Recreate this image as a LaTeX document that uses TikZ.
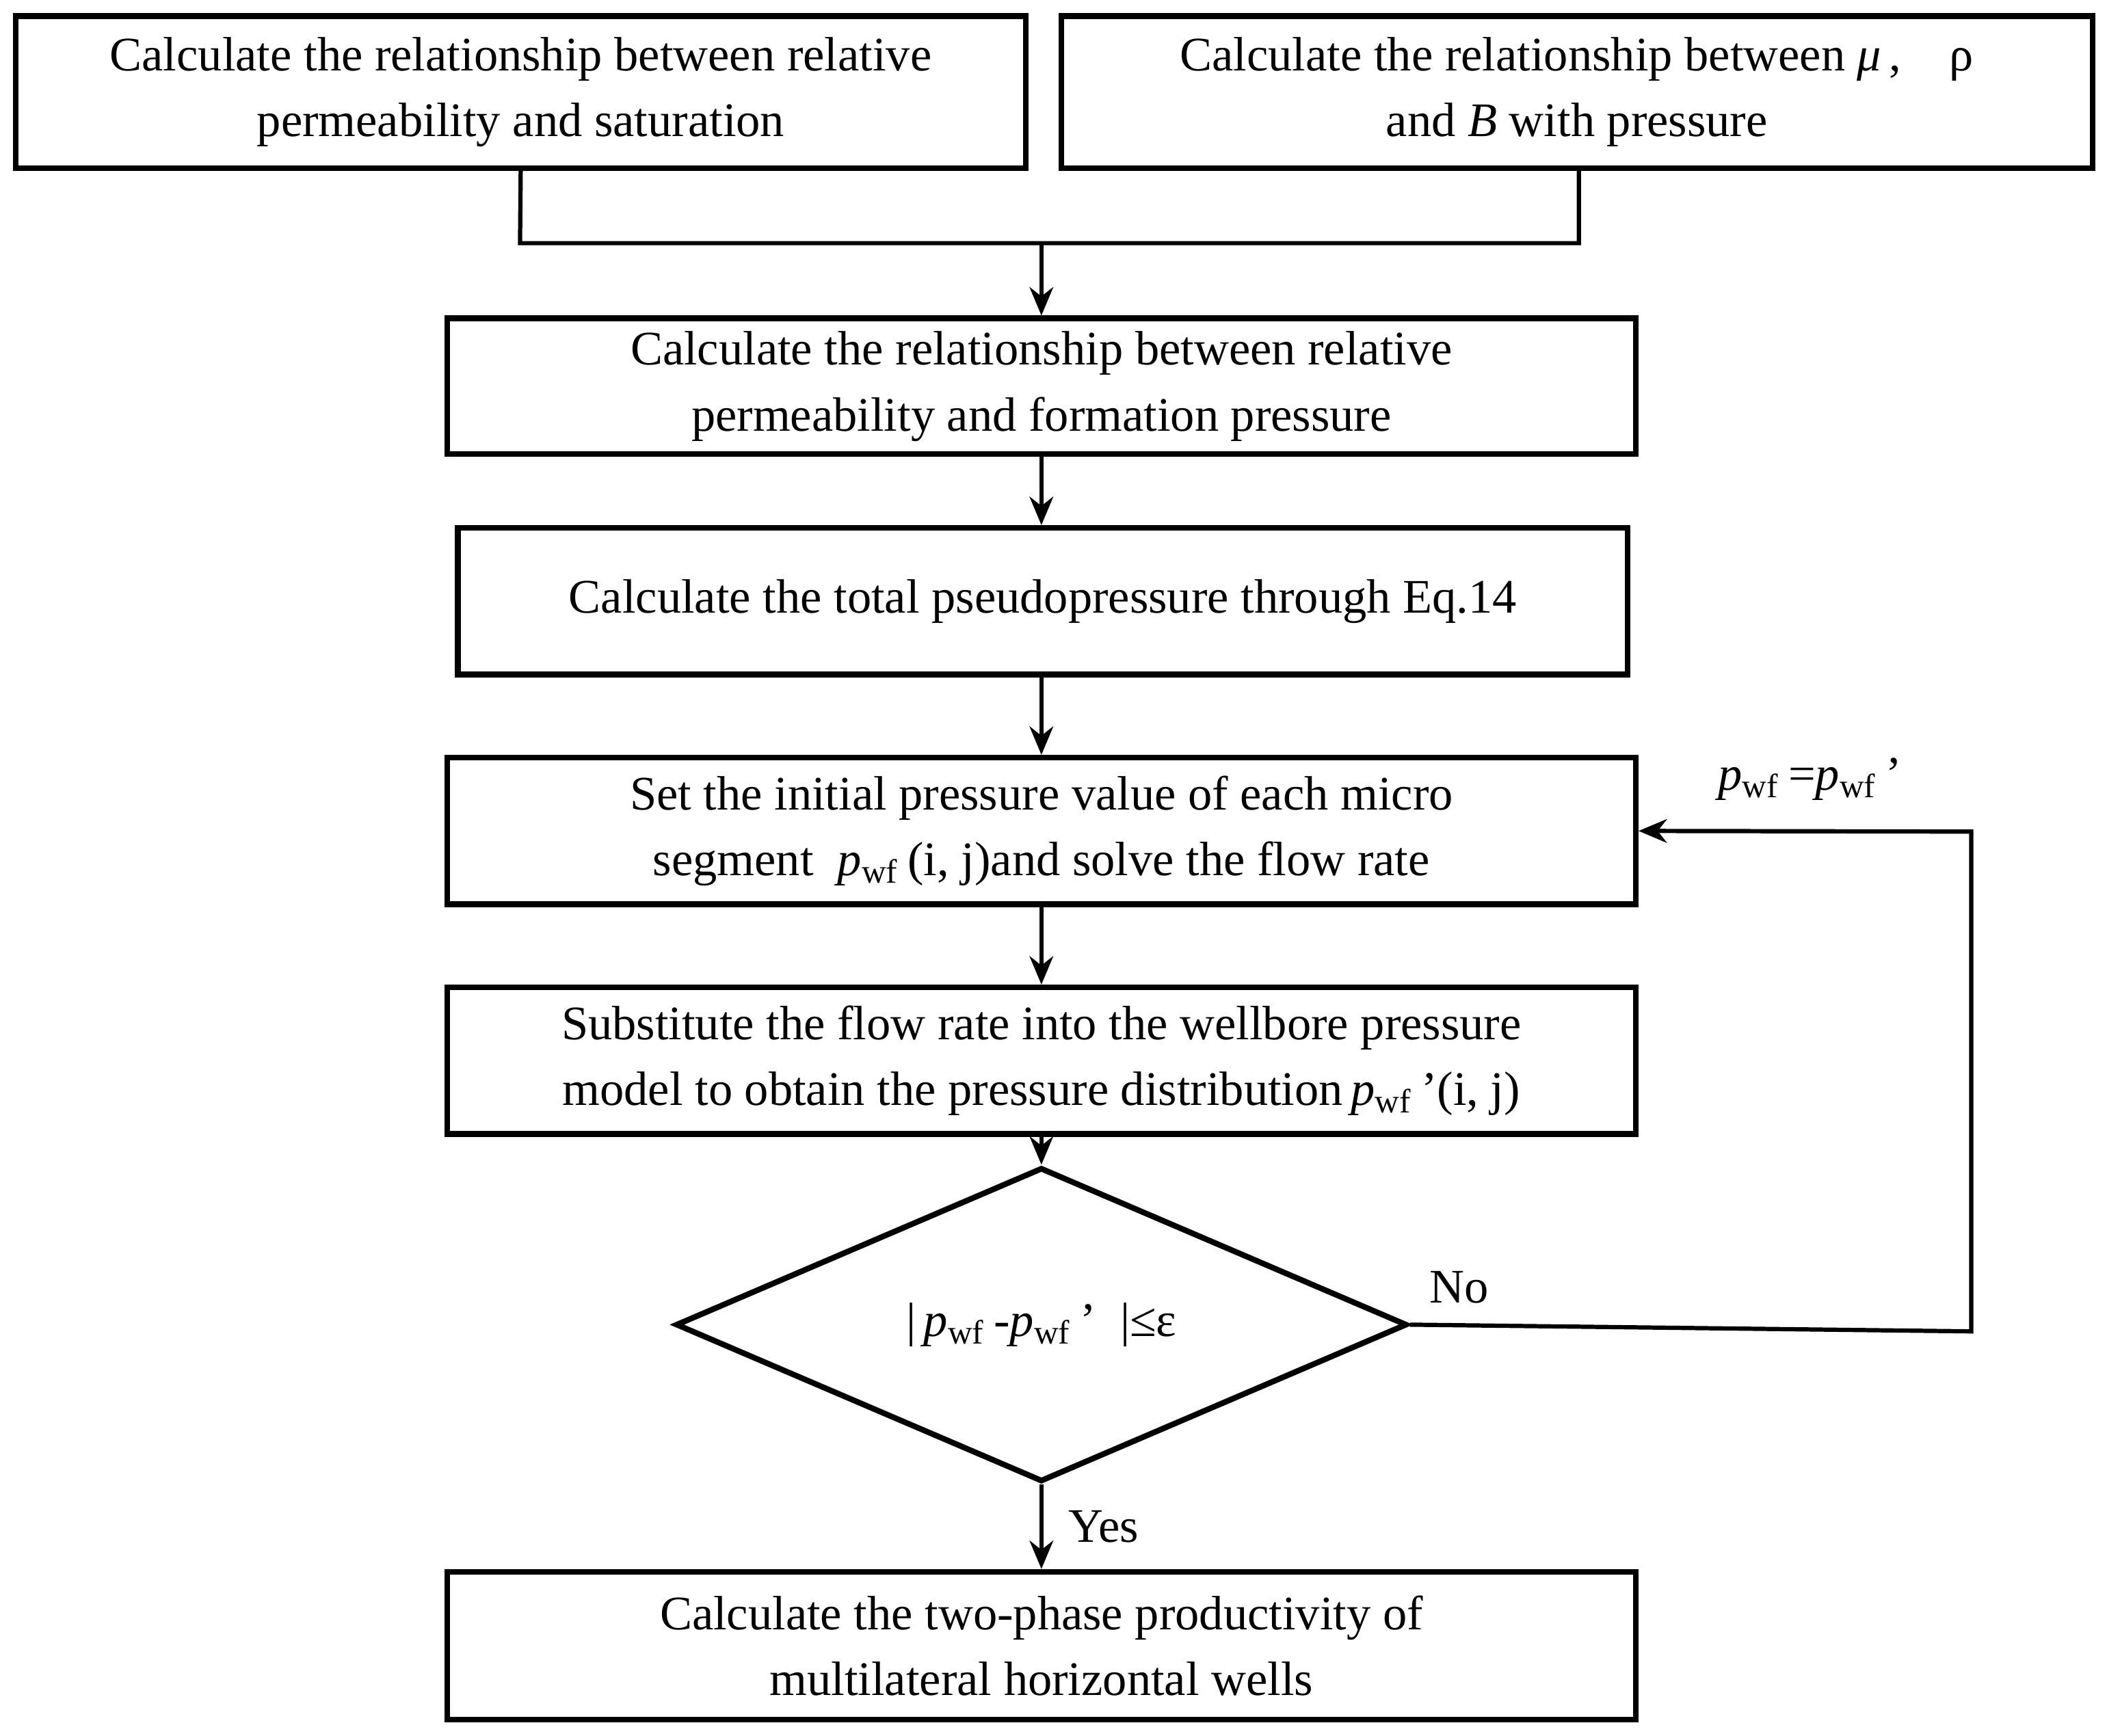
\documentclass[tikz,border=0pt]{standalone}
\usepackage{fontspec}
\setmainfont{Liberation Serif}
\usetikzlibrary{shapes.geometric,arrows.meta}
\newcommand{\pwf}{\textit{p}\textsubscript{wf}}
\begin{document}
\begin{tikzpicture}[x=0.01cm,y=-0.01cm,
  box/.style={draw,line width=1.2pt,inner sep=0pt,align=center,font=\fontsize{10.2}{14}\selectfont},
  arr/.style={line width=0.9pt,-{Stealth[length=6pt,width=5pt]}},
  lab/.style={font=\fontsize{10.2}{14}\selectfont}]
\useasboundingbox (0,0) rectangle (1568,1292);
\node[box,minimum width=7.51cm,minimum height=1.13cm] (b1) at (387.5,68.5) {Calculate the relationship between relative\\permeability and saturation};
\node[box,minimum width=7.67cm,minimum height=1.13cm] (b2) at (1173.5,68.5) {Calculate the relationship between \textit{μ}\,,\quad ρ\\and \textit{B} with pressure};
\node[box,minimum width=8.84cm,minimum height=1.01cm] (b3) at (775,287.5) {Calculate the relationship between relative\\permeability and formation pressure};
\node[box,minimum width=8.70cm,minimum height=1.09cm] (b4) at (776,447.5) {Calculate the total pseudopressure through Eq.14};
\node[box,minimum width=8.84cm,minimum height=1.09cm] (b5) at (775,618.5) {Set the initial pressure value of each micro\\segment\ \ \pwf\,(i, j)and solve the flow rate};
\node[box,minimum width=8.84cm,minimum height=1.09cm] (b6) at (775,789.5) {Substitute the flow rate into the wellbore pressure\\model to obtain the pressure distribution\,\pwf\,'(i, j)};
\node[box,diamond,minimum width=5.44cm,minimum height=1.54cm] (d) at (775,986) {|\,\pwf\,-\pwf\,'\ \ |≤ε};
\node[box,minimum width=8.84cm,minimum height=1.10cm] (b7) at (775,1225) {Calculate the two-phase productivity of\\multilateral horizontal wells};
\coordinate (j) at (775,181);
\draw[line width=0.9pt] (b1.south) -- (387,181) -- (1175,181) -- (b2.south -| 1175,0);
\draw[arr] (j) -- (b3.north);
\draw[arr] (b3.south) -- (b4.north -| b3.south);
\draw[arr] (b4.south -| b3.south) -- (b5.north);
\draw[arr] (b5.south) -- (b6.north);
\draw[arr] (b6.south) -- (d.north);
\draw[arr] (d.south) -- (b7.north) node[lab,midway,right=2pt] {Yes};
\coordinate (c1) at (1467,991);
\coordinate (c2) at (1467,619);
\draw[arr] (d.east) -- (c1) -- (c2) -- (b5.east);
\node[lab] (no) at (1086,958) {No};
\node[lab] (pl) at (1347,580) {\pwf\,=\pwf\,'};
\end{tikzpicture}
\end{document}
